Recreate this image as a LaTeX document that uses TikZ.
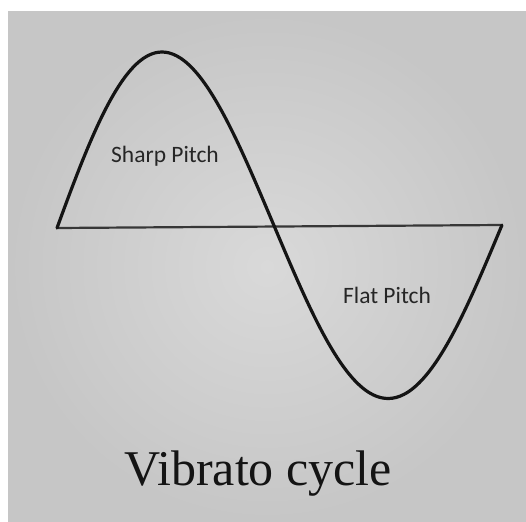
\documentclass[tikz,border=0pt]{standalone}
\usepackage{fontspec}
\setmainfont{Liberation Serif}
\newfontfamily\labfont{Carlito}
\definecolor{paperin}{HTML}{D9D9D9}
\definecolor{paperout}{HTML}{C6C6C6}
\definecolor{ink}{HTML}{141414}
\definecolor{labink}{HTML}{262626}
\tikzset{
  wave/.style={draw=ink, line width=3.2pt, line join=round, line cap=round},
  axisline/.style={draw=ink!85, line width=2.2pt},
  pitchlabel/.style={anchor=base, text=labink, font=\labfont\fontsize{23.5}{28}\selectfont, inner sep=0pt},
  titlelabel/.style={anchor=base, text=ink, font=\fontsize{50}{60}\selectfont, inner sep=0pt}
}
\begin{document}
\begin{tikzpicture}[x=1pt,y=-1pt]
\useasboundingbox (0,0) rectangle (526,521);
\fill[white] (0,0) rectangle (526,521);
\shade[inner color=paperin, outer color=paperout] (8,12) rectangle (526,521);
\coordinate (axL) at (57,228);
\coordinate (axR) at (502,225);
\draw[axisline] (axL) -- (axR);
\draw[wave] plot[domain=0:1, samples=61, smooth] ({57+202*\x+16*\x*\x}, {228-176*sin(180*\x)})
  -- plot[domain=0:1, samples=61, smooth] ({275+227*\x}, {228-3*\x+172*sin(180*\x)});
\node[pitchlabel] (sharp) at (165,163) {Sharp Pitch};
\node[pitchlabel] (flat) at (387,303) {Flat Pitch};
\node[titlelabel] (title) at (258,485) {Vibrato cycle};
\end{tikzpicture}
\end{document}
